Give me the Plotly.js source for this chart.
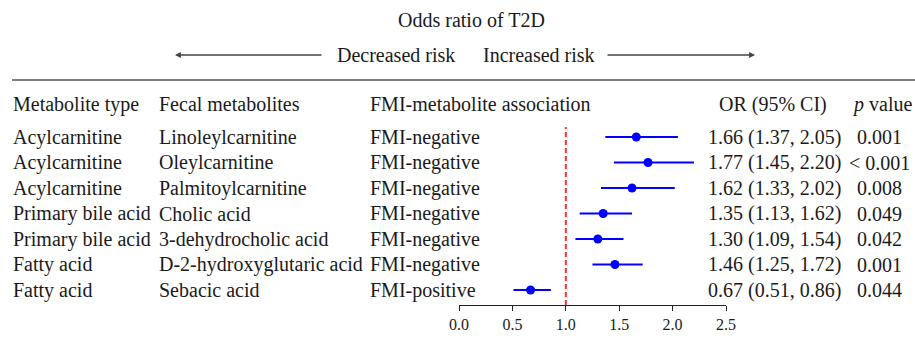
<!DOCTYPE html>
<html>
<head>
<meta charset="utf-8">
<script src="https://cdn.plot.ly/plotly-3.0.1.min.js"></script>
<style>
  html, body { margin: 0; padding: 0; background: #fff; }
  #chart { width: 915px; height: 344px; }
</style>
</head>
<body>
<div id="chart"></div>
<script>
// ---- data ----
const metaboliteType = ["Acylcarnitine", "Acylcarnitine", "Acylcarnitine", "Primary bile acid", "Primary bile acid", "Fatty acid", "Fatty acid"];
const fecalMetabolites = ["Linoleylcarnitine", "Oleylcarnitine", "Palmitoylcarnitine", "Cholic acid", "3-dehydrocholic acid", "D-2-hydroxyglutaric acid", "Sebacic acid"];
const association = ["FMI-negative", "FMI-negative", "FMI-negative", "FMI-negative", "FMI-negative", "FMI-negative", "FMI-positive"];
const oddsRatio = [1.66, 1.77, 1.62, 1.35, 1.30, 1.46, 0.67];
const ciLow = [1.37, 1.45, 1.33, 1.13, 1.09, 1.25, 0.51];
const ciHigh = [2.05, 2.20, 2.02, 1.62, 1.54, 1.72, 0.86];
const pValue = ["0.001", "< 0.001", "0.008", "0.049", "0.042", "0.001", "0.044"];
const headers = ["Metabolite type", "Fecal metabolites", "FMI-metabolite association", "OR (95% CI)", "<i>p</i> value"];
const tickVals = [0, 0.5, 1.0, 1.5, 2.0, 2.5];
const refValue = 1.0;

// ---- layout helpers ----
const W = 915, H = 344;
const px = v => v / W;
const py = v => 1 - v / H;
const FONT = "Liberation Serif, Times New Roman, serif";
const TXT = "#1a1a1a";
const FS = 20;

const rows = oddsRatio.map((_, i) => i);

const traces = [{
  type: "scatter",
  mode: "markers",
  x: oddsRatio,
  y: rows,
  marker: { color: "#0000ff", size: 9 },
  error_x: {
    type: "data",
    symmetric: false,
    array: oddsRatio.map((v, i) => ciHigh[i] - v),
    arrayminus: oddsRatio.map((v, i) => v - ciLow[i]),
    color: "#0000ff",
    thickness: 2,
    width: 0
  },
  hoverinfo: "skip",
  showlegend: false
}];

const ann = [];
function txt(text, x, y, opts) {
  ann.push(Object.assign({
    text: text, x: x, y: y, xref: "paper", yref: "paper",
    xanchor: "left", yanchor: "middle", showarrow: false,
    font: { family: FONT, size: FS, color: TXT }
  }, opts || {}));
}

// title + risk labels
txt("Odds ratio of T2D", px(396), py(20));
txt("Decreased risk", px(335), py(55));
txt("Increased risk", px(481), py(55));
// arrows
ann.push({ x: px(175), y: py(55), xref: "paper", yref: "paper", ax: 148, ay: 0, text: "",
  showarrow: true, arrowhead: 2, arrowsize: 0.9, arrowwidth: 1.3, arrowcolor: "#444" });
ann.push({ x: px(755), y: py(55), xref: "paper", yref: "paper", ax: -149, ay: 0, text: "",
  showarrow: true, arrowhead: 2, arrowsize: 0.9, arrowwidth: 1.3, arrowcolor: "#444" });

// headers
const colX = [11, 157, 368, 717, 850];
headers.forEach((h, i) => txt(h, px(colX[i]), py(104)));

// rows
rows.forEach(i => {
  const o = { yref: "y" };
  txt(metaboliteType[i], px(11), i, o);
  txt(fecalMetabolites[i], px(157), i, o);
  txt(association[i], px(368), i, o);
  txt(oddsRatio[i].toFixed(2) + " (" + ciLow[i].toFixed(2) + ", " + ciHigh[i].toFixed(2) + ")", px(706), i, o);
  txt(pValue[i], px(879), i, { yref: "y", xanchor: "center" });
});

const layout = {
  width: W, height: H,
  margin: { l: 0, r: 0, t: 0, b: 0 },
  paper_bgcolor: "#fff", plot_bgcolor: "#fff",
  showlegend: false,
  xaxis: {
    domain: [px(459), px(726)],
    range: [0, 2.5],
    tickvals: tickVals,
    ticktext: tickVals.map(v => v.toFixed(1)),
    ticks: "outside", ticklen: 5, tickwidth: 1, tickcolor: "#222",
    showline: true, linecolor: "#222", linewidth: 1,
    showgrid: false, zeroline: false,
    tickfont: { family: FONT, size: 16, color: TXT },
    fixedrange: true
  },
  yaxis: {
    domain: [py(305), py(127)],
    range: [6.588, -0.392],
    visible: false,
    showgrid: false, zeroline: false,
    fixedrange: true
  },
  shapes: [
    { type: "line", xref: "paper", yref: "paper", x0: px(12), x1: 1, y0: py(80), y1: py(80),
      line: { color: "#555", width: 1.5 } },
    { type: "line", xref: "x", yref: "y domain", x0: refValue, x1: refValue, y0: 0, y1: 1,
      line: { color: "#ff3030", width: 2, dash: "5px,3px" }, layer: "below" }
  ],
  annotations: ann
};

Plotly.newPlot("chart", traces, layout, { displayModeBar: false, staticPlot: true });
</script>
</body>
</html>
